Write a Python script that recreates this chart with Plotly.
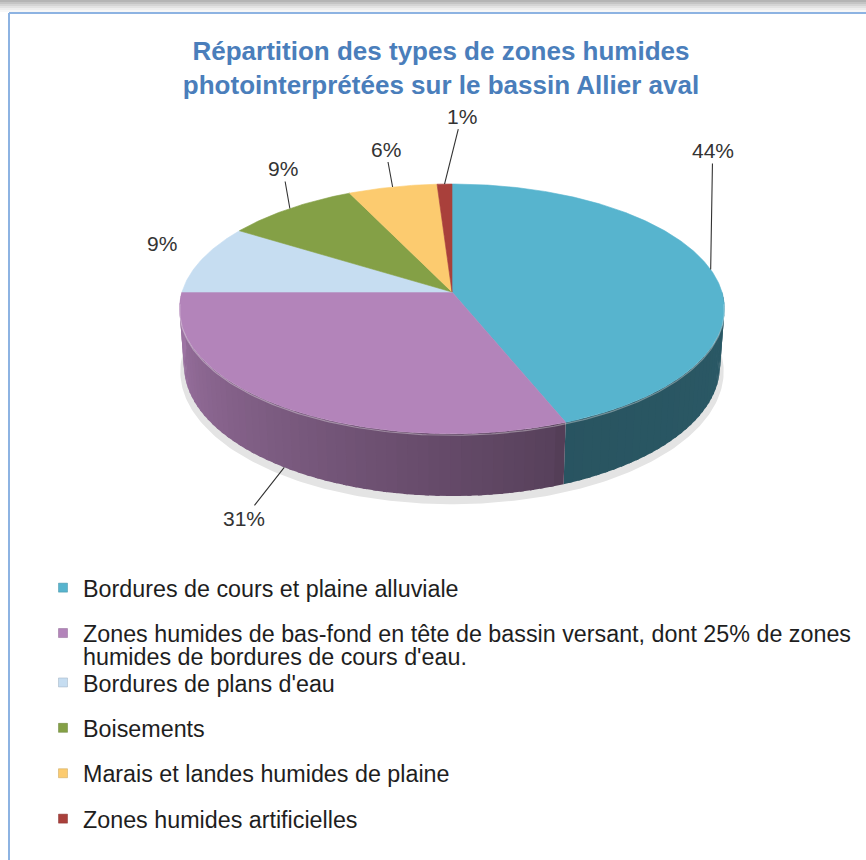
import textwrap
import numpy as np
import plotly.graph_objects as go

# ---------------- data ----------------
categories = [
    "Bordures de cours et plaine alluviale",
    "Zones humides de bas-fond en tête de bassin versant, dont 25% de zones humides de bordures de cours d'eau.",
    "Bordures de plans d'eau",
    "Boisements",
    "Marais et landes humides de plaine",
    "Zones humides artificielles",
]
values = [44, 31, 9, 9, 6, 1]
colors = ["#57B4CE", "#B384BA", "#C6DDF1", "#84A046", "#FCCB6F", "#A9403B"]
title_text = "Répartition des types de zones humides<br>photointerprétées sur le bassin Allier aval"

# ---------------- geometry / style ----------------
W, H = 866, 860
CX, CY, S = 452, 292, 270          # pie centre and horizontal radius (px)
K0 = 0.1515                        # perspective strength
ELEV = np.radians(27)              # viewing elevation
DEPTH = 0.238                      # thickness of the pie (in radii)
FONT = "Liberation Sans, Arial, sans-serif"

# label offsets (px) from the anchor point on each slice, and anchor height
label_offsets = [(2, -119), (-40, 51), (-40, -16), (-7, -40), (-7, -38), (17, -68)]
label_on_side = [False, True, False, False, False, False]
label_arrow = [True, True, False, True, True, True]


def proj(theta_deg, h=0.0, r=1.0):
    t = np.radians(theta_deg)
    X = r * np.sin(t)
    Z = r * np.cos(t)
    den = 1 + K0 * (Z * np.cos(ELEV) - h * np.sin(ELEV))
    x = CX + S * X / den
    y = CY - S * (Z * np.sin(ELEV) + h * np.cos(ELEV)) / den
    return x, y


def shade(hex_color, f):
    hc = hex_color.lstrip("#")
    r, g, b = (int(hc[i:i + 2], 16) for i in (0, 2, 4))
    return "rgb(%d,%d,%d)" % (min(255, r * f), min(255, g * f), min(255, b * f))


def side_factor(th):
    if th <= 160:
        return 0.47 + 0.03 * (160 - th) / 70
    return 0.49 + 0.40 * (th - 160) / 110


total = float(sum(values))
cum = np.concatenate([[0], np.cumsum(values)]) / total * 360.0

fig = go.Figure()

# soft shadow under the pie
th = np.linspace(80, 280, 200)
xs, ys = proj(th, -DEPTH - 0.022, 1.015)
xt, yt = proj(th[::-1], -DEPTH * 0.5, 0.98)
fig.add_trace(go.Scatter(x=np.concatenate([xs, xt]), y=np.concatenate([ys, yt]),
                         fill="toself", fillcolor="#e4e4e4", mode="lines",
                         line=dict(width=0, color="#e4e4e4"), hoverinfo="skip", showlegend=False))

# side walls (front half only)
for i, v in enumerate(values):
    a0, a1 = cum[i], cum[i + 1]
    s0, s1 = max(a0, 90.0), min(a1, 270.0)
    if s1 <= s0:
        continue
    n = max(1, int(np.ceil((s1 - s0) / 2.0)))
    edges = np.linspace(s0, s1, n + 1)
    for k, (ta, tb) in enumerate(zip(edges[:-1], edges[1:])):
        tb2 = min(tb + 0.8, s1) if k < n - 1 else tb
        th = np.linspace(ta, tb2, 4)
        xt, yt = proj(th, 0.0)
        xb, yb = proj(th[::-1], -DEPTH)
        col = shade(colors[i], side_factor((ta + tb) / 2))
        fig.add_trace(go.Scatter(x=np.concatenate([xt, xb]), y=np.concatenate([yt, yb]),
                                 fill="toself", fillcolor=col, mode="lines",
                                 line=dict(width=0, color=col), hoverinfo="skip",
                                 showlegend=False))

# top faces
for i, v in enumerate(values):
    a0, a1 = cum[i], cum[i + 1]
    th = np.linspace(a0, a1, max(3, int((a1 - a0) * 2)))
    xr, yr = proj(th, 0.0)
    fig.add_trace(go.Scatter(x=np.concatenate([[CX], xr, [CX]]), y=np.concatenate([[CY], yr, [CY]]),
                             fill="toself", fillcolor=colors[i], mode="lines",
                             line=dict(width=0.6, color=colors[i]), hoverinfo="skip",
                             showlegend=False, name=categories[i]))

# subtle highlight along the front rim
th = np.linspace(95, 265, 200)
xh, yh = proj(th, -0.006)
fig.add_trace(go.Scatter(x=xh, y=yh, mode="lines", line=dict(width=1.2, color="rgba(255,255,255,0.35)"),
                         hoverinfo="skip", showlegend=False))

# percentage labels
annotations = []
for i, v in enumerate(values):
    mid = (cum[i] + cum[i + 1]) / 2
    ax_, ay_ = proj(mid, -DEPTH if label_on_side[i] else 0.0)
    dx, dy = label_offsets[i]
    txt = "%d%%" % round(100 * v / total)
    if label_arrow[i]:
        annotations.append(dict(x=ax_, y=ay_, xref="x", yref="y", text=txt, showarrow=True,
                                arrowhead=0, arrowwidth=1.1, arrowcolor="#333333",
                                ax=dx, ay=dy, font=dict(size=21, color="#333333", family=FONT)))
    else:
        annotations.append(dict(x=ax_, y=ay_, xref="x", yref="y", text=txt, showarrow=False,
                                xshift=dx, yshift=-dy, font=dict(size=21, color="#333333", family=FONT)))

# legend (one legend per row so the rows keep Excel's fixed, tight spacing)
LEG_X, LEG_Y0, LEG_DY = 43, 588, 45.4
LEG_LINE = 23
LEG_WRAP_GAP = 4
LEG_FONT = 23.3
legend_layouts = {}
n_leg = 0


def add_legend_row(text, ypx, color, visible_marker=True):
    global n_leg
    n_leg += 1
    key = "legend" if n_leg == 1 else "legend%d" % n_leg
    mcol = color if visible_marker else "rgba(0,0,0,0)"
    lcol = shade(color, 0.8) if visible_marker else "rgba(0,0,0,0)"
    fig.add_trace(go.Scatter(x=[None], y=[None], mode="markers", name=text,
                             marker=dict(symbol="square", size=9, color=mcol,
                                         line=dict(width=0.5, color=lcol)),
                             legend=key, showlegend=True, hoverinfo="skip"))
    legend_layouts[key] = dict(x=LEG_X / W, y=1 - ypx / H, xanchor="left", yanchor="middle",
                               bgcolor="rgba(0,0,0,0)", borderwidth=0, itemclick=False,
                               itemdoubleclick=False,
                               font=dict(size=LEG_FONT, color="#1e1e1e", family=FONT))


extra_offset = 0.0
for i, cat in enumerate(categories):
    lines = textwrap.wrap(cat, width=72)
    yrow = LEG_Y0 + i * LEG_DY + extra_offset
    add_legend_row(lines[0], yrow, colors[i])
    for j, extra in enumerate(lines[1:]):
        add_legend_row(extra, yrow + LEG_LINE * (j + 1), colors[i], visible_marker=False)
    if len(lines) > 1:
        extra_offset += LEG_WRAP_GAP

# frame decorations (top shadow + blue border)
shapes = []
for k, g in enumerate(["#b4b4b4", "#c4c4c4", "#d4d4d4", "#e2e2e2", "#eeeeee", "#f7f7f7"]):
    shapes.append(dict(type="rect", xref="paper", yref="paper", x0=0, x1=1,
                       y0=1 - (k + 1) * 2 / H, y1=1 - k * 2 / H, fillcolor=g, line=dict(width=0),
                       layer="below"))
shapes.append(dict(type="line", xref="paper", yref="paper", x0=9 / W, x1=1, y0=1 - 13 / H, y1=1 - 13 / H,
                   line=dict(color="#8DB3E2", width=2)))
shapes.append(dict(type="line", xref="paper", yref="paper", x0=9 / W, x1=9 / W, y0=0, y1=1 - 13 / H,
                   line=dict(color="#8DB3E2", width=2)))

layout = dict(
    width=W, height=H, autosize=False,
    margin=dict(l=0, r=0, t=0, b=0),
    paper_bgcolor="white", plot_bgcolor="white",
    xaxis=dict(range=[0, W], visible=False, fixedrange=True),
    yaxis=dict(range=[H, 0], visible=False, fixedrange=True),
    title=dict(text="<b>" + title_text + "</b>", x=441 / W, xanchor="center",
               y=1 - 60 / H, yanchor="middle",
               font=dict(size=26, color="#4A7EBB", family=FONT)),
    annotations=annotations,
    shapes=shapes,
    hovermode=False,
)
layout.update(legend_layouts)
fig.update_layout(**layout)

fig.write_html("out.html", post_script="document.body.style.margin='0px';",
               config={"displayModeBar": False})
